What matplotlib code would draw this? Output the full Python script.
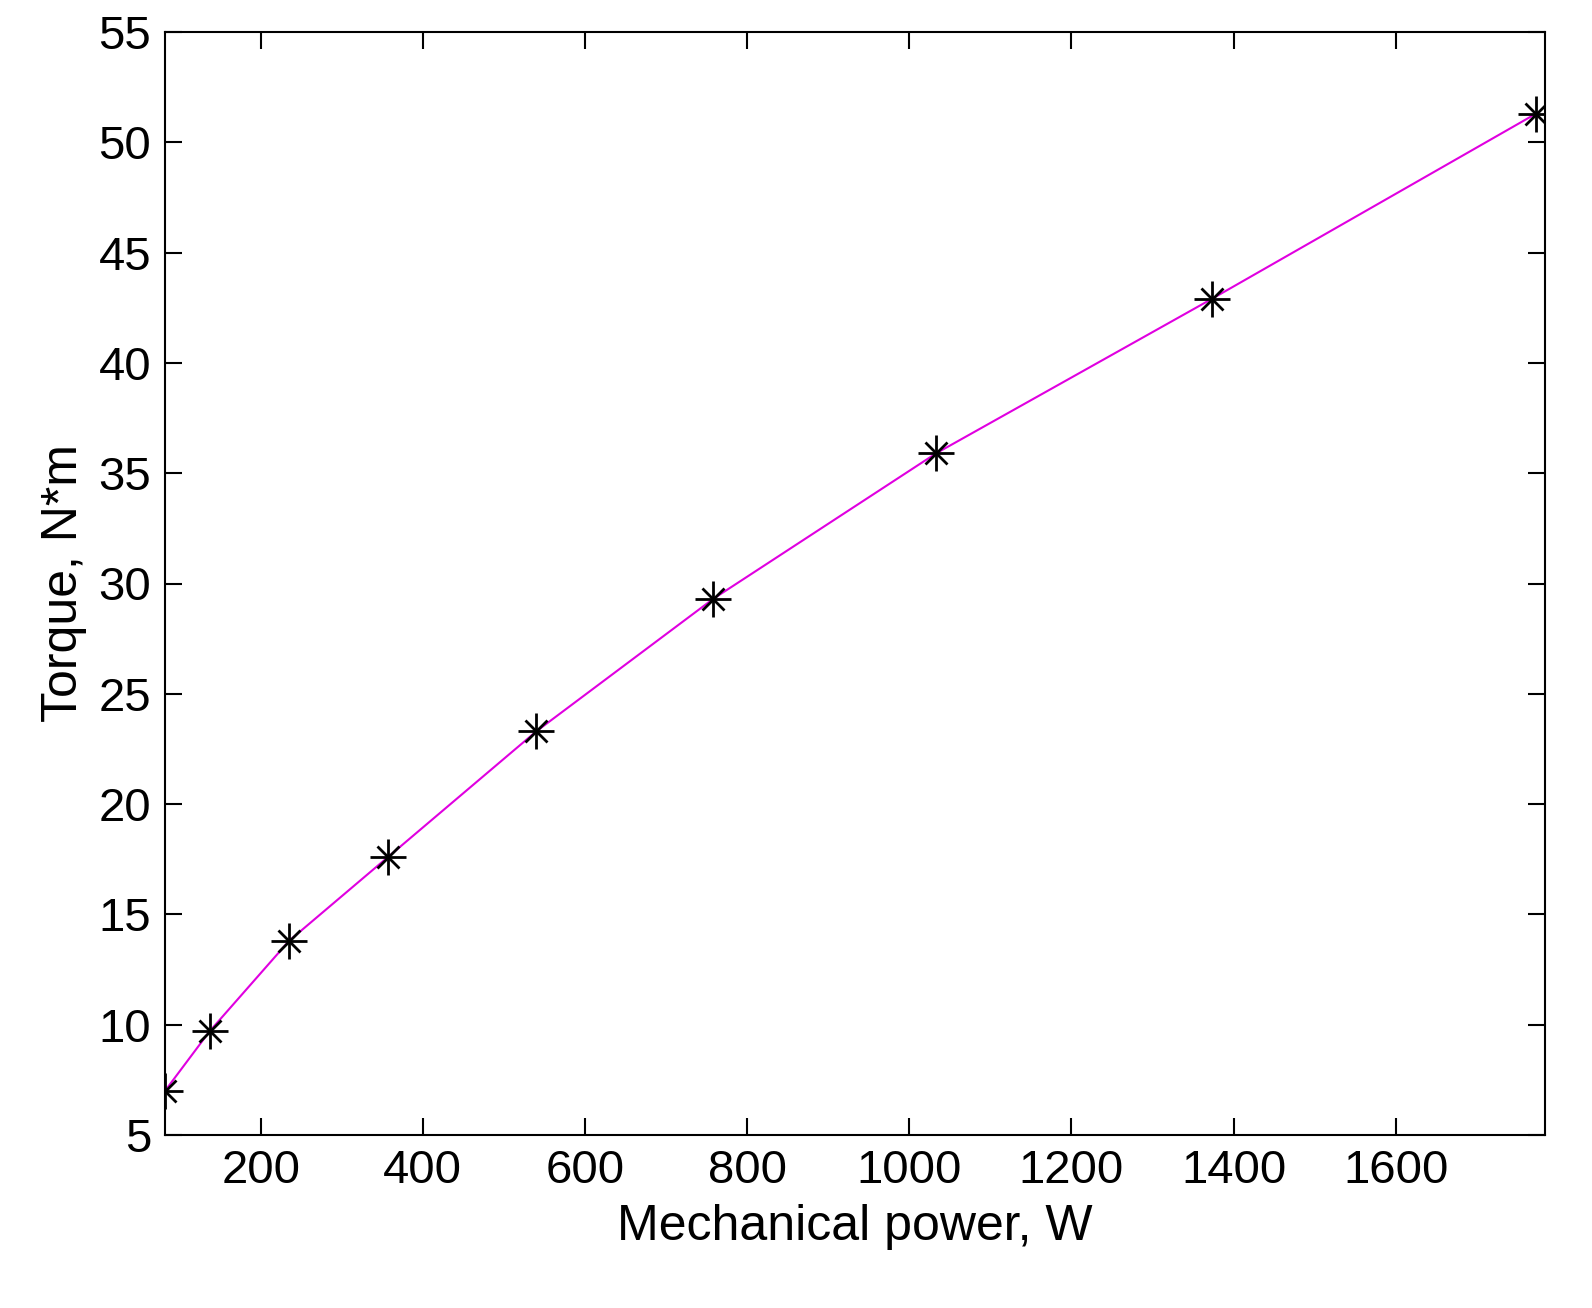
import matplotlib
matplotlib.use("Agg")
import matplotlib.pyplot as plt

power = [82, 137, 235, 357, 540, 758, 1033, 1373, 1773]
torque = [7.0, 9.7, 13.8, 17.6, 23.3, 29.3, 35.9, 42.9, 51.3]
xticks = [200, 400, 600, 800, 1000, 1200, 1400, 1600]
yticks = [5, 10, 15, 20, 25, 30, 35, 40, 45, 50, 55]

plt.rcParams['font.family'] = ['Liberation Sans', 'DejaVu Sans']
fig = plt.figure(figsize=(15.92, 13.08), dpi=100)
ax = fig.add_axes([165/1592, 1-1135/1308, 1380/1592, 1103/1308])
ax.plot(power, torque, color='#e000e0', lw=1.5)
ax.plot(power, torque, ls='none', marker='+', color='black', ms=26, mew=2)
ax.plot(power, torque, ls='none', marker='x', color='black', ms=16, mew=2)
ax.set_xlim(82, 1784)
ax.set_ylim(5, 55)
ax.set_xticks(xticks)
ax.set_yticks(yticks)
ax.tick_params(direction='in', length=12, width=1.5, labelsize=34, top=True, right=True, pad=10)
for s in ax.spines.values():
    s.set_linewidth(1.5)
ax.set_xlabel('Mechanical power, W', fontsize=36, labelpad=8)
ax.set_ylabel('Torque, N*m', fontsize=36, labelpad=8)
fig.savefig('out.png', dpi=100)
